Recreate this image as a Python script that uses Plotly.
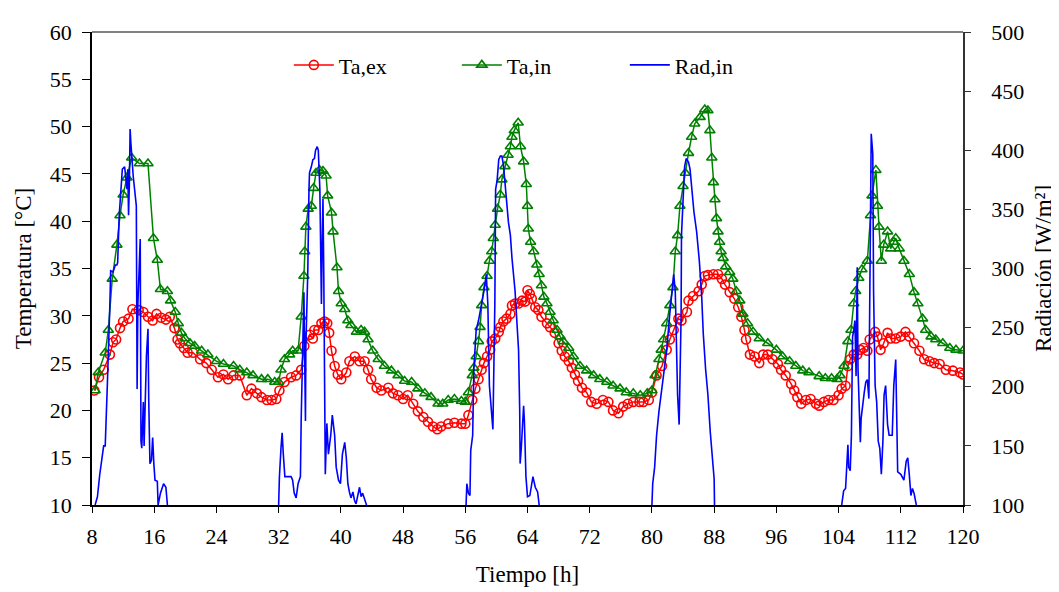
import plotly.graph_objects as go

# Ta,ex (exterior air temperature)
t_ex = [8.3, 8.9, 9.5, 10.3, 10.7, 11.1, 11.6, 12.0, 12.7, 13.2, 14.0, 14.6, 15.2, 15.8, 16.3, 16.9, 17.5, 18.0,
        18.6, 19.0, 19.3, 19.8, 20.3, 21.0, 21.9, 22.7, 23.4, 24.2, 24.9, 25.5, 26.2, 27.0, 27.9, 28.5, 29.2, 29.8,
        30.5, 31.1, 31.7, 32.1,
        32.75, 33.6, 34.25, 34.9, 35.3, 36.0, 36.4, 36.6, 37.1, 37.5, 37.9, 38.25, 38.5, 38.8, 39.2, 39.6, 40.05,
        40.7, 41.1, 41.8, 42.4, 43.05, 43.5, 43.9, 44.6, 45.2, 46.1, 46.7, 47.35, 48.0, 48.6, 49.3, 49.9, 50.6,
        51.2, 51.85, 52.4, 52.9, 53.8, 54.6, 55.5, 56.0,
        56.4, 56.9, 57.3, 57.7, 58.1, 58.4, 58.8, 59.2, 59.4, 59.85, 60.3, 60.5, 60.9, 61.3, 61.8, 62.0, 62.4,
        62.85, 63.3, 63.7, 64.0, 64.3, 64.55, 65.0, 65.4, 65.8, 66.5, 66.9, 67.5, 68.0, 68.4, 68.8, 69.3, 69.7,
        70.1, 70.5, 71.0, 71.6, 72.2, 72.9, 73.7, 74.4, 75.0, 75.7, 76.3, 76.9, 77.6, 78.4, 78.9, 79.6, 80.0,
        80.6, 81.3, 81.9, 82.3, 82.8, 83.4, 83.8, 84.5, 84.7, 85.3, 86.0, 86.4, 86.8, 87.2, 87.9, 88.5, 89.0,
        89.4, 90.0, 90.6, 91.1, 91.5, 91.9, 92.1, 92.6, 93.2, 93.8, 94.3, 94.9, 95.5, 96.2, 96.6, 97.2, 97.9,
        98.3, 98.7, 99.2, 99.8, 100.4, 101.1, 101.5,
        102.1, 102.7, 103.35, 104.0, 104.4, 104.9, 105.2, 105.5, 105.95, 106.4, 106.8, 107.2, 107.7, 108.0,
        108.7, 109.0, 109.4, 109.8, 110.3, 110.7, 111.35, 112.0, 112.6, 113.1, 113.7, 114.4, 115.0, 115.7,
        116.3, 117.0, 117.8, 118.7, 119.6, 120.0]
ta_ex = [22.1, 23.5, 24.3, 25.9, 27.2, 27.5, 28.7, 29.4, 29.7, 30.7, 30.6, 30.4, 29.9, 29.5, 30.2, 29.8, 29.6, 29.9,
         28.7, 27.5, 27.1, 26.6, 26.1, 26.1, 25.4, 25.0, 24.3, 23.5, 23.8, 23.3, 23.7, 23.7, 21.6, 22.3, 21.8, 21.4,
         21.1, 21.1, 21.2, 22.1,
         23.0, 23.5, 23.7, 24.3, 26.8, 28.0, 27.6, 28.5, 28.5, 29.2, 29.4, 29.2, 28.2, 26.3, 24.7, 23.8, 23.3,
         24.0, 25.2, 25.7, 25.2, 25.2, 24.3, 23.3, 22.4, 22.1, 22.4, 21.8, 21.6, 21.2, 21.6, 20.7, 19.9, 19.3,
         18.8, 18.3, 18.0, 18.3, 18.6, 18.7, 18.6, 18.6,
         19.5, 21.1, 22.3, 23.3, 24.3, 25.0, 25.7, 26.4, 27.3, 27.6, 28.3, 28.8, 29.4, 29.7, 30.2, 31.1, 31.3,
         31.3, 31.6, 31.5, 32.7, 32.3, 31.8, 30.9, 30.6, 29.9, 29.2, 28.8, 28.2, 27.1, 26.3, 25.7, 25.2, 24.5,
         23.8, 23.1, 22.4, 21.9, 20.9, 20.7, 21.1, 20.9, 20.0, 19.7, 20.4, 20.7, 20.9, 20.9, 20.9, 21.1, 21.9,
         23.7, 24.7, 26.4, 27.5, 28.5, 29.7, 29.5, 30.4, 31.6, 32.1, 32.6, 33.3, 34.2, 34.3, 34.4, 34.4, 33.9,
         33.3, 32.5, 31.8, 30.9, 29.9, 28.5, 27.5, 25.9, 25.7, 25.0, 25.9, 25.9, 25.4, 24.9, 24.3, 23.7, 22.8,
         22.1, 21.4, 20.7, 21.1, 21.2, 20.7, 20.5,
         20.9, 21.1, 21.1, 21.6, 22.3, 22.6, 24.7, 25.4, 25.9, 25.9, 26.4, 26.6, 26.3, 27.5,
         28.3, 27.8, 26.4, 27.1, 28.2, 27.6, 27.6, 27.8, 28.3, 27.8, 27.1, 26.3, 25.4, 25.2,
         25.0, 24.9, 24.3, 24.2, 24.0, 23.8]

# Ta,in (interior air temperature)
t_in = [8.4, 8.8, 9.7, 10.1, 10.6, 11.2, 11.6, 12.0, 12.5, 13.1, 14.1, 15.2, 15.9, 16.4, 16.8, 17.7, 18.1, 18.7,
        19.1, 19.5, 19.95, 20.6, 21.2, 22.1, 22.9, 24.0, 24.9, 26.2, 27.0, 27.9, 28.7, 29.8, 30.6, 31.5, 32.0,
        32.3, 32.75, 33.4, 33.8, 34.5, 34.9, 35.25, 35.35, 35.5, 35.8, 36.2, 36.5, 36.8, 37.25, 37.7, 38.1, 38.3,
        38.8, 39.0, 39.5, 39.7, 40.05, 40.5, 40.9, 41.3, 42.0, 42.6, 43.05, 43.5, 44.1, 44.8, 45.6, 46.5, 47.35,
        48.2, 49.1, 49.9, 50.8, 51.6, 52.5, 53.1, 53.8, 54.6, 55.5, 56.0,
        56.4, 56.9, 57.1, 57.4, 57.7, 57.9, 58.1, 58.4, 58.8, 59.1, 59.4, 59.6, 59.85, 60.15, 60.5, 60.7, 61.1,
        61.5, 61.8, 62.0, 62.3, 62.8, 63.1, 63.5, 63.85, 64.0, 64.1, 64.4, 64.8, 65.2, 65.5, 65.8, 66.1, 66.5,
        66.9, 67.3, 67.8, 68.2, 68.6, 69.3, 69.9, 70.75, 71.6, 72.5, 73.3, 74.2, 75.0, 75.9, 76.7, 77.6, 78.5,
        79.4, 80.0,
        80.4, 80.9, 81.2, 81.5, 81.9, 82.3, 82.7, 83.0, 83.3, 83.6, 84.0, 84.3, 84.7, 85.1, 85.5, 86.2, 86.8,
        87.2, 87.45, 87.7, 87.9, 88.1, 88.3, 88.5, 88.7, 88.9, 89.15, 89.5, 90.0, 90.4, 90.85, 91.3, 91.7, 92.3,
        93.0, 93.8, 94.9, 96.0, 96.8, 97.7, 98.5, 99.4, 100.2, 101.5,
        102.3, 103.1, 103.8, 104.2, 104.7, 105.2, 105.6, 105.95, 106.2, 106.6, 107.0, 107.7, 108.1, 108.3, 108.8,
        109.0, 109.2, 109.5, 109.8, 110.3, 110.7, 111.1, 111.35, 111.8, 112.4, 113.1, 113.7, 114.2, 114.8, 115.2,
        115.9, 116.5, 117.4, 118.3, 119.1, 120.0]
ta_in = [22.1, 24.0, 26.1, 28.5, 33.9, 37.5, 40.6, 42.8, 44.6, 46.7, 46.1, 46.1, 38.2, 35.9, 32.8, 32.6, 31.6, 30.4,
         29.2, 28.2, 27.6, 27.1, 26.8, 26.3, 25.9, 25.2, 24.9, 24.7, 24.3, 24.0, 23.7, 23.3, 23.3, 23.0, 23.0,
         24.3, 25.4, 25.9, 26.3, 26.3, 29.9, 34.2, 36.8, 39.4, 41.3, 41.6, 43.5, 45.1, 45.4, 45.3, 44.8, 42.7,
         40.9, 38.9, 35.1, 32.6, 31.3, 30.7, 29.5, 29.0, 28.3, 28.5, 28.3, 27.5, 26.3, 25.4, 24.7, 24.2, 23.7,
         23.1, 23.0, 22.3, 21.8, 21.4, 20.7, 20.7, 21.1, 21.2, 21.0, 20.9,
         21.9, 23.7, 24.5, 25.7, 27.3, 28.8, 31.1, 33.0, 34.2, 35.8, 36.8, 38.2, 39.6, 41.3, 42.8, 44.4, 45.8,
         47.0, 47.9, 48.9, 49.6, 50.4, 47.9, 46.3, 43.9, 41.6, 39.2, 37.8, 36.8, 35.4, 34.4, 33.2, 32.0, 31.3,
         30.4, 29.5, 28.5, 27.8, 27.3, 26.6, 25.7, 24.7, 24.2, 23.7, 23.3, 23.0, 22.6, 22.3, 21.9, 21.8, 21.6,
         21.8, 22.1,
         23.7, 25.4, 26.4, 27.5, 29.2, 31.1, 33.0, 36.8, 38.5, 41.6, 43.7, 45.1, 47.2, 48.9, 50.3, 51.0, 51.8,
         51.7, 49.6, 46.7, 44.1, 42.3, 40.3, 38.9, 37.8, 36.8, 36.1, 35.2, 34.6, 33.9, 32.6, 31.6, 30.2, 29.2,
         28.3, 27.6, 27.1, 26.4, 25.7, 25.2, 24.7, 24.2, 24.0, 23.6,
         23.4, 23.4, 23.3, 23.7, 24.7, 27.3, 28.5, 31.3, 32.6, 34.0, 34.9, 35.8, 40.6, 42.7, 45.4,
         41.6, 39.4, 35.8, 37.5, 38.9, 37.1, 37.8, 38.2, 37.1, 35.8, 34.4, 32.5, 31.3, 29.7, 28.5,
         27.8, 27.5, 27.1, 26.6, 26.4, 26.3]

# Rad,in (interior radiation), None = night gap
t_rad = [8.4, 8.7, 9.0, 9.5, 9.7, 9.9, 9.97, 10.3, 10.4, 10.7, 11.0, 11.2, 11.3, 11.5, 11.7, 11.9, 12.2, 12.5, 12.6,
         12.7, 12.8, 12.9, 13.0, 13.3, 13.7, 13.8, 13.9, 14.2, 14.3, 14.4, 14.6, 14.7, 15.0, 15.2, 15.3, 15.45,
         15.65, 15.8, 15.95, 16.1, 16.4, 16.5, 16.8, 17.2, 17.5, 17.7, None,
         32.0, 32.1, 32.3, 32.45, 32.6, 32.8, 33.6, 33.8, 34.0, 34.25, 34.5, 34.8, 34.9, 35.1, 35.25, 35.3, 35.45,
         35.5, 35.75, 35.9, 35.97, 36.2, 36.4, 36.6, 36.75, 36.96, 37.1, 37.3, 37.4, 37.5, 37.6, 37.7, 37.8,
         37.9, 38.0, 38.2, 38.4, 38.7, 38.9, 39.2, 39.4, 39.7, 39.95, 40.2, 40.5, 40.7, 40.9, 41.1, 41.3, 41.55,
         41.75, 41.95, 42.3, 42.4, 42.6, 42.8, 43.1, 43.3, None,
         56.1, 56.2, 56.4, 56.6, 56.7, 56.95, 57.1, 57.4, 57.7, 58.1, 58.4, 58.7, 58.9, 59.1, 59.4, 59.55, 59.8,
         59.9, 60.1, 60.3, 60.5, 60.7, 60.9, 61.1, 61.35, 61.55, 61.8, 62.0, 62.4, 62.6, 62.85, 63.0, 63.05,
         63.2, 63.35, 63.5, 63.6, 63.8, 64.0, 64.3, 64.7, 65.0, 65.3, 65.5, None,
         80.0, 80.1, 80.35, 80.6, 80.9, 81.2, 81.5, 81.9, 82.3, 82.6, 82.8, 83.0, 83.2, 83.3, 83.5, 83.6, 83.75,
         83.8, 84.0, 84.2, 84.4, 84.7, 84.9, 85.1, 85.4, 85.75, 86.1, 86.4, 86.6, 86.9, 87.2, 87.5, 87.8, 88.0,
         88.05, None,
         104.4, 104.65, 104.9, 105.1, 105.2, 105.3, 105.5, 105.65, 105.8, 105.95, 106.1, 106.25, 106.4, 106.5,
         106.7, 106.8, 106.9, 107.1, 107.3, 107.5, 107.7, 107.9, 108.0, 108.1, 108.2, 108.4, 108.5, 108.7,
         108.9, 109.1, 109.3, 109.5, 109.7, 109.85, 110.05, 110.3, 110.5, 110.9, 111.1, 111.35, 111.5, 111.6,
         112.0, 112.4, 112.7, 112.9, 113.1, 113.3, 113.5, 113.7, 114.0]
rad_in = [100, 107, 126, 150, 150, 184, 201, 270, 298, 297, 303, 303, 305, 345, 366, 384, 386, 367, 384,
          345, 370, 418, 406, 378, 353, 198, 270, 325, 154, 148, 187, 150, 226, 249, 187, 135,
          138, 157, 135, 121, 120, 100, 110, 118, 115, 100, None,
          100, 124, 148, 161, 143, 124, 124, 121, 110, 106, 118, 124, 173, 242, 280, 248, 171,
          234, 298, 367, 381, 386, 392, 393, 400, 403, 400, 367, 325, 270, 322, 359, 298,
          171, 126, 169, 143, 159, 176, 159, 132, 121, 118, 143, 153, 140, 118, 111, 106, 111,
          104, 101, 110, 115, 107, 110, 104, 100, None,
          100, 118, 110, 108, 146, 159, 215, 248, 256, 270, 281, 295, 270, 201, 173, 164, 270,
          367, 375, 392, 395, 395, 388, 373, 359, 339, 328, 309, 281, 259, 231, 179, 135,
          148, 168, 184, 171, 124, 107, 108, 124, 115, 111, 100, None,
          100, 118, 132, 159, 179, 195, 212, 231, 262, 281, 295, 281, 223, 193, 168, 198, 259,
          328, 361, 386, 393, 390, 384, 370, 348, 331, 306, 276, 245, 215, 193, 162, 135, 122,
          100, None,
          100, 112, 114, 135, 151, 132, 129, 159, 242, 248, 256, 209, 301, 215,
          168, 153, 173, 187, 195, 204, 206, 190, 275, 298, 414, 397, 281, 201,
          187, 154, 148, 126, 154, 193, 201, 168, 159, 159, 201, 223, 165, 128,
          126, 121, 137, 140, 125, 108, 114, 110, 100]

x_ticks = list(range(8, 121, 8))
font = "Liberation Serif"

fig = go.Figure()
fig.add_trace(go.Scatter(x=t_ex, y=ta_ex, name="Ta,ex", mode="lines+markers",
                         line=dict(color="#FF0000", width=1.5),
                         marker=dict(symbol="circle-open", size=9, color="#FF0000", line=dict(width=1.6))))
fig.add_trace(go.Scatter(x=t_in, y=ta_in, name="Ta,in", mode="lines+markers",
                         line=dict(color="#008000", width=1.5),
                         marker=dict(symbol="triangle-up-open", size=9, color="#008000", line=dict(width=1.6))))
fig.add_trace(go.Scatter(x=t_rad, y=rad_in, name="Rad,in", mode="lines", yaxis="y2",
                         line=dict(color="#0000FF", width=1.6), connectgaps=False))

fig.update_layout(
    width=1059, height=592,
    margin=dict(l=84, r=104, t=15, b=95),
    plot_bgcolor="white", paper_bgcolor="white",
    font=dict(family=font, size=22, color="black"),
    showlegend=True,
    legend=dict(orientation="h", x=0.226, y=0.93, xanchor="left", yanchor="middle",
                bgcolor="rgba(0,0,0,0)", font=dict(family=font, size=22), entrywidth=113, itemwidth=40),
    xaxis=dict(range=[8, 120], tickvals=x_ticks, showgrid=False, zeroline=False,
               showline=True, linecolor="black", linewidth=1.5, ticks="outside", ticklen=6,
               tickcolor="black", ticklabelstandoff=5, tickfont=dict(family=font, size=22),
               title=dict(text="Tiempo [h]", standoff=18, font=dict(family=font, size=23))),
    yaxis=dict(range=[10, 60], dtick=5, showgrid=False, zeroline=False,
               showline=True, linecolor="black", linewidth=1.5, ticks="outside", ticklen=8,
               tickcolor="black", ticklabelstandoff=6, tickfont=dict(family=font, size=22),
               title=dict(text="Temperatura [°C]", standoff=12, font=dict(family=font, size=23))),
    yaxis2=dict(range=[100, 500], dtick=50, overlaying="y", side="right", showgrid=False,
                zeroline=False, showline=True, linecolor="#333333", linewidth=1.5, ticks="outside",
                ticklen=6, tickcolor="#333333", ticklabelstandoff=16, tickfont=dict(family=font, size=22),
                title=dict(text="Radiación [W/m²]", standoff=12, font=dict(family=font, size=23))),
    shapes=[dict(type="line", xref="paper", yref="paper", x0=0, x1=1, y0=1, y1=1,
                 line=dict(color="#808080", width=2))],
)

fig.write_html("out.html")
